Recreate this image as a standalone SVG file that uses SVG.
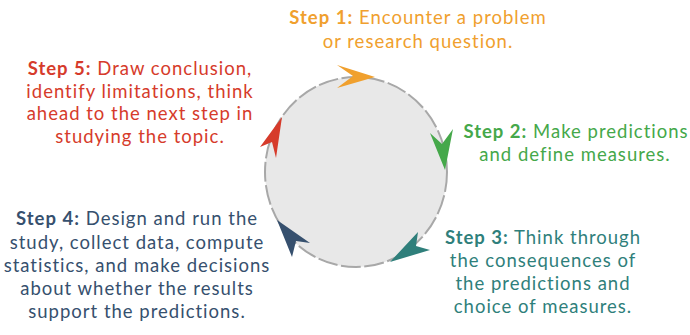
<svg xmlns="http://www.w3.org/2000/svg" width="690" height="335" viewBox="0 0 690 335">
  <style>
    text { font-family: Lato, "Open Sans", sans-serif; font-size: 18.5px; letter-spacing: 1px; text-anchor: middle; }
    .b { font-weight: 700; }
    .s1 { fill: #F0A02E; }
    .s2 { fill: #45A84A; }
    .s3 { fill: #2F7F7B; }
    .s4 { fill: #36506E; }
    .s5 { fill: #D63B2B; }
    .ring { fill: #E8E8E8; stroke: #A8A8A8; stroke-width: 2; stroke-dasharray: 20 3.5; }
  </style>
  <rect width="690" height="335" fill="#FFFFFF"/>

  <!-- cycle ring -->
  <g id="cycle">
    <ellipse class="ring" cx="356" cy="172" rx="91" ry="95"/>
  </g>

  <!-- arrowheads around the ring -->
  <g id="connectors">
    <polygon class="s1" points="375,77 337,65 353,76 337,88"/>
    <polygon class="s2" points="445,170 430,133 442,144 453,129"/>
    <polygon class="s3" points="390,262 430,250 416,246 418,232"/>
    <polygon class="s4" points="277,220 292,257 296,241 310,243"/>
    <polygon class="s5" points="282,117 260,147 272,142 276,158"/>
  </g>

  <g id="step1">
    <text class="s1" x="418" y="24"><tspan class="b">Step 1:</tspan> Encounter a problem</text>
    <text class="s1" x="418" y="48">or research question.</text>
  </g>

  <g id="step2">
    <text class="s2" x="576" y="138"><tspan class="b">Step 2:</tspan> Make predictions</text>
    <text class="s2" x="575" y="161">and define measures.</text>
  </g>

  <g id="step3">
    <text class="s3" x="543" y="244"><tspan class="b">Step 3:</tspan> Think through</text>
    <text class="s3" x="543" y="267">the consequences of</text>
    <text class="s3" x="543" y="290">the predictions and</text>
    <text class="s3" x="543" y="313">choice of measures.</text>
  </g>

  <g id="step4">
    <text class="s4" x="137" y="225"><tspan class="b">Step 4:</tspan> Design and run the</text>
    <text class="s4" x="137" y="249">study, collect data, compute</text>
    <text class="s4" x="137" y="272">statistics, and make decisions</text>
    <text class="s4" x="137" y="295">about whether the results</text>
    <text class="s4" x="137" y="318">support the predictions.</text>
  </g>

  <g id="step5">
    <text class="s5" x="140" y="75"><tspan class="b">Step 5:</tspan> Draw conclusion,</text>
    <text class="s5" x="140" y="97.5">identify limitations, think</text>
    <text class="s5" x="140" y="120">ahead to the next step in</text>
    <text class="s5" x="140" y="142.5">studying the topic.</text>
  </g>
</svg>
